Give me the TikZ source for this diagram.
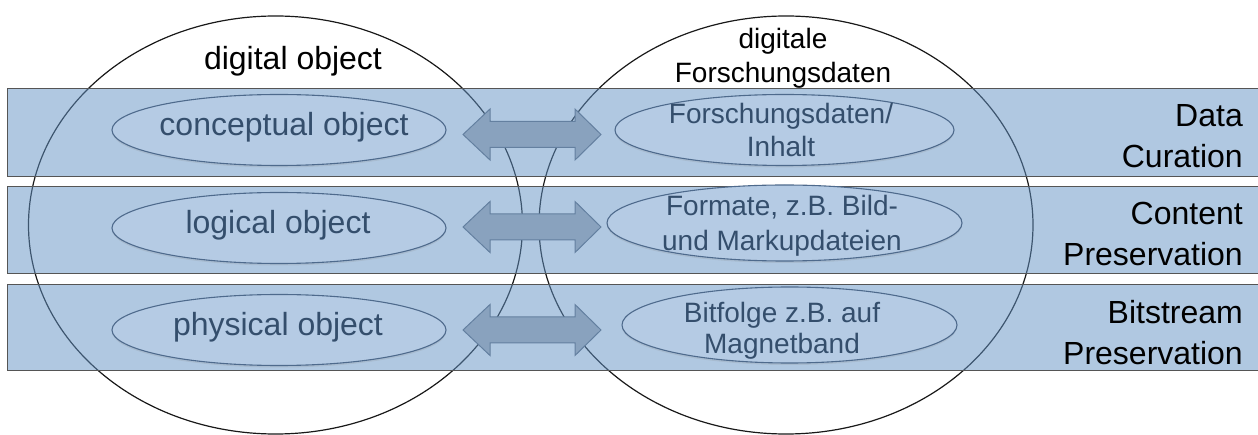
\documentclass[tikz,border=0pt]{standalone}
\usepackage{fontspec}
\setmainfont{Liberation Sans}
\usetikzlibrary{shapes.geometric,shadows}
\definecolor{bandfill}{RGB}{98,146,196}
\definecolor{bandline}{RGB}{85,85,85}
\definecolor{innerfill}{RGB}{181,203,228}
\definecolor{innerline}{RGB}{78,106,140}
\definecolor{innertext}{RGB}{52,78,108}
\definecolor{arrowfill}{RGB}{137,162,190}
\definecolor{arrowline}{RGB}{100,128,160}
\definecolor{circline}{RGB}{25,25,25}
\begin{document}
\begin{tikzpicture}[x=1pt,y=-1pt,
  bigcirc/.style={ellipse, draw=circline, line width=1.2pt, inner sep=0pt,
    minimum width=494pt, minimum height=418pt},
  bandbox/.style={rectangle, anchor=north west, fill=bandfill, fill opacity=0.5,
    draw=bandline, line width=1pt, inner sep=0pt, minimum width=1260pt},
  innerell/.style={ellipse, fill=innerfill, draw=innerline, line width=1.1pt, inner sep=0pt,
    drop shadow={opacity=0.18, shadow xshift=0pt, shadow yshift=-2pt}},
  lefttext/.style={anchor=base, text=innertext, font=\fontsize{32}{38}\selectfont, inner sep=0pt},
  righttext/.style={anchor=north, align=center, text=innertext, font=\fontsize{28}{33}\selectfont, inner sep=0pt},
  toptext/.style={inner sep=0pt, text=black},
  bandlabel/.style={anchor=north east, align=right, font=\fontsize{32}{41}\selectfont, inner sep=0pt, text=black},
  blockarrow/.style={fill=arrowfill, draw=arrowline, line width=1pt, line join=miter}
]
\useasboundingbox (0,0) rectangle (1258,435);

% big object circles
\node[bigcirc] (dobj) at (275.5,225) {};
\node[bigcirc] (dfd) at (786,225) {};

% bands
\node[bandbox, minimum height=88pt] (b1) at (7,88) {};
\node[bandbox, minimum height=87pt] (b2) at (7,186) {};
\node[bandbox, minimum height=86pt] (b3) at (7,284) {};

% inner ellipses, left
\node[innerell, minimum width=334pt, minimum height=71pt] (lc) at (279,130) {};
\node[innerell, minimum width=334pt, minimum height=71pt] (ll) at (279,228) {};
\node[innerell, minimum width=334pt, minimum height=71pt] (lp) at (279,330) {};
% inner ellipses, right
\node[innerell, minimum width=339pt, minimum height=71pt] (rc) at (784.5,130) {};
\node[innerell, minimum width=355pt, minimum height=76pt] (rl) at (784.5,223) {};
\node[innerell, minimum width=335pt, minimum height=76pt] (rp) at (789.5,325) {};

% block arrows
\foreach \c/\n in {134.5/a1,227/a2,330/a3}{
  \draw[blockarrow] (463,\c) -- (490,\c-25.5) -- (490,\c-13) -- (575,\c-13) -- (575,\c-25.5)
    -- (601,\c) -- (575,\c+25.5) -- (575,\c+13) -- (490,\c+13) -- (490,\c+25.5) -- cycle;
}

% texts
\node[toptext, anchor=base, font=\fontsize{32}{38}\selectfont] (tdo) at (293,70) {digital object};
\node[toptext, anchor=north, align=center, font=\fontsize{28}{34}\selectfont] (tdf) at (783,27.6) {digitale\\Forschungsdaten};

\node[lefttext] (tlc) at (284,136) {conceptual object};
\node[lefttext] (tll) at (278,234) {logical object};
\node[lefttext] (tlp) at (278,336) {physical object};

\node[righttext] (trc) at (781,102.6) {Forschungsdaten/\\Inhalt};
\node[righttext, font=\fontsize{28}{35}\selectfont] (trl) at (782,194.6) {Formate, z.B. Bild-\\und Markupdateien};
\node[righttext, font=\fontsize{28}{31}\selectfont] (trp) at (782,301.6) {Bitfolge z.B. auf\\Magnetband};

\node[bandlabel] (l1) at (1243,104.1) {Data\\Curation};
\node[bandlabel] (l2) at (1243,201.6) {Content\\Preservation};
\node[bandlabel] (l3) at (1243,300.1) {Bitstream\\Preservation};
\end{tikzpicture}
\end{document}
